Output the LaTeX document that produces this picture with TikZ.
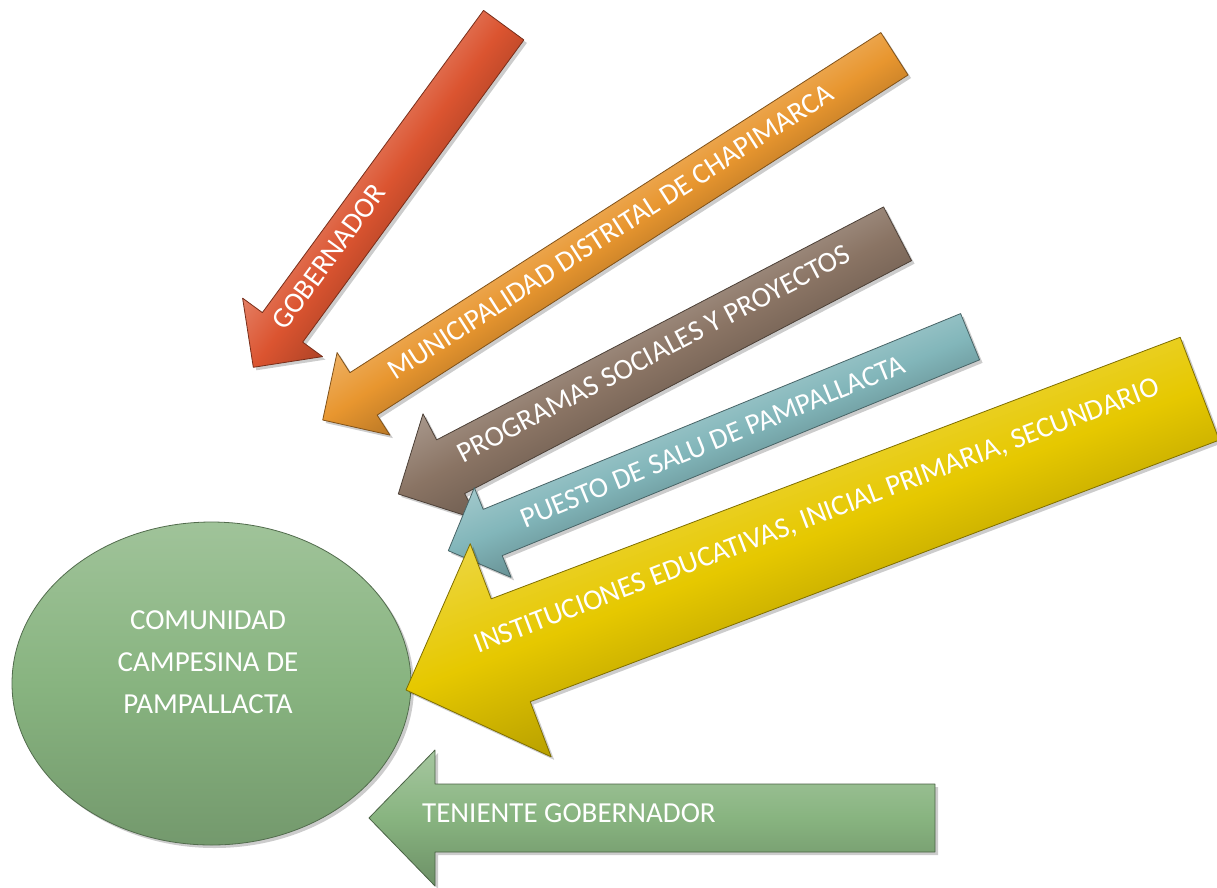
\documentclass[tikz,border=0pt]{standalone}
\usepackage{fontspec}
\setmainfont{Carlito}
\usetikzlibrary{shapes.geometric}
\definecolor{cRed}{HTML}{DB5430}
\definecolor{cOrange}{HTML}{E8962F}
\definecolor{cBrown}{HTML}{8A7464}
\definecolor{cTeal}{HTML}{82B6BA}
\definecolor{cYellow}{HTML}{E6C800}
\definecolor{cGreen}{HTML}{88B480}
\tikzset{
  lbl/.style={text=white, inner sep=0pt, font=\fontsize{29}{41.7}\selectfont},
  bubble/.style={ellipse, draw=cGreen!60!black, line width=0.8pt, top color=cGreen!80!white, bottom color=cGreen!85!black, middle color=cGreen},
}
% #1 tip, #2 angle, #3 length, #4 head half width, #5 head length, #6 shaft half width, #7 colour
\newcommand\BigArrow[7]{%
  \begin{scope}[transform canvas={shift={#1}, shift={(3,-3)}, rotate=#2}]
    \fill[black, opacity=0.2] (0,0) -- (#5,#4) -- (#5,#6) -- (#3,#6) -- (#3,-#6) -- (#5,-#6) -- (#5,-#4) -- cycle;
  \end{scope}
  \begin{scope}[transform canvas={shift={#1}, rotate=#2}]
    \shade[top color=#7!75!white, bottom color=#7!80!black, middle color=#7, draw=#7!55!black, line width=0.8pt, line join=round]
      (0,0) -- (#5,#4) -- (#5,#6) -- (#3,#6) -- (#3,-#6) -- (#5,-#6) -- (#5,-#4) -- cycle;
  \end{scope}
}
\begin{document}
\begin{tikzpicture}[x=1pt, y=1pt]
\useasboundingbox (0,0) rectangle (1217,-887);
\clip (0,0) rectangle (1217,-887);
\fill[white] (0,0) rectangle (1217,-887);

% community ellipse
\fill[black, opacity=0.2] (214.5,-686.5) ellipse [x radius=199.5, y radius=161.5];
\node[bubble, minimum width=399pt, minimum height=323pt, inner sep=0pt] (com) at (211.5,-683.5) {};
\node[lbl, align=center] (comtxt) at (208,-662) {COMUNIDAD\\CAMPESINA DE\\PAMPALLACTA};

% arrows
\BigArrow{(253.3,-367.3)}{53.8}{424}{49.5}{49.5}{25}{cRed}
\begin{scope}[shift={(253.3,-367.3)}, rotate=53.8]
  \node[lbl, rotate=53.8, anchor=base west] (gob) at (48,-5) {GOBERNADOR};
\end{scope}

\BigArrow{(322.7,-420)}{32.64}{679}{49}{48.5}{25.2}{cOrange}
\begin{scope}[shift={(322.7,-420)}, rotate=32.64]
  \node[lbl, rotate=32.64, anchor=base west] (muni) at (82,-6.2) {MUNICIPALIDAD DISTRITAL DE CHAPIMARCA};
\end{scope}

\BigArrow{(398.3,-494)}{27.53}{563}{59.7}{59}{30.3}{cBrown}
\begin{scope}[shift={(398.3,-494)}, rotate=27.53]
  \node[lbl, rotate=27.53, anchor=base west] (prog) at (72,-2.8) {PROGRAMAS SOCIALES Y PROYECTOS};
\end{scope}

\BigArrow{(448.3,-550.7)}{22.3}{564}{48.5}{48}{25}{cTeal}
\begin{scope}[shift={(448.3,-550.7)}, rotate=22.3]
  \node[lbl, rotate=22.3, anchor=base west] (salud) at (79.5,-8.4) {PUESTO DE SALU DE PAMPALLACTA};
\end{scope}

\BigArrow{(406,-690)}{20.79}{849}{114}{112}{55}{cYellow}
\begin{scope}[shift={(406,-690)}, rotate=20.79]
  \node[lbl, rotate=20.79, anchor=base west] (inst) at (80.6,8.6) {INSTITUCIONES EDUCATIVAS, INICIAL PRIMARIA, SECUNDARIO};
\end{scope}

\BigArrow{(369,-818)}{0}{566}{68}{66}{34}{cGreen}
\node[lbl, anchor=base west] (ten) at (422,-822) {TENIENTE GOBERNADOR};
\end{tikzpicture}
\end{document}
